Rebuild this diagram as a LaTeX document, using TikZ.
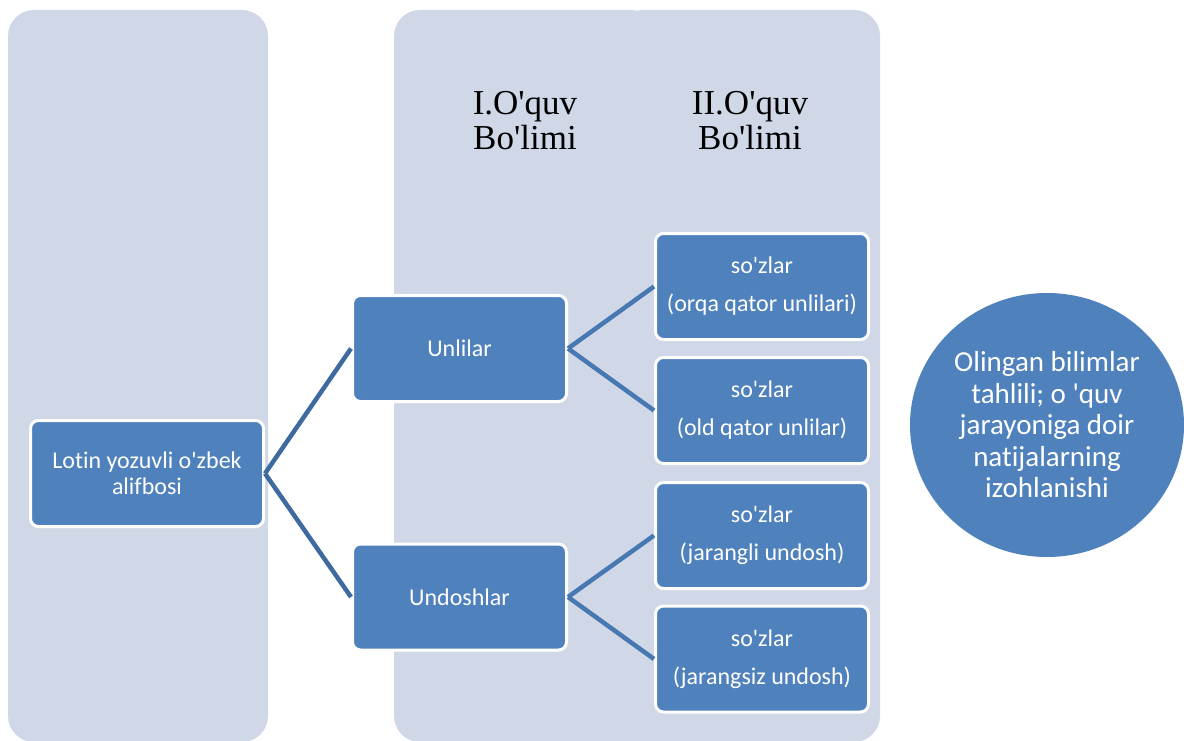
\documentclass[tikz,border=0pt]{standalone}
\usepackage{fontspec}
\setmainfont{Carlito}[Ligatures=NoCommon]
\newfontfamily\tnrfont{Liberation Serif}
\usetikzlibrary{shapes.geometric}
\definecolor{colbg}{HTML}{D0D8E8}
\definecolor{boxblue}{HTML}{4F81BD}
\definecolor{lineL}{HTML}{3F6A9F}
\definecolor{lineR}{HTML}{4878B2}
\newcommand{\ap}{\textquotesingle}
\begin{document}
\begin{tikzpicture}[x=1pt,y=-1pt,
  column/.style={fill=colbg, rounded corners=26pt},
  bluebox/.style={draw=white, line width=3pt, fill=boxblue, rounded corners=8pt,
    text=white, align=center, inner sep=0pt,
    font=\fontsize{24}{26}\selectfont, minimum height=106pt},
  header/.style={align=center, inner sep=0pt, font=\tnrfont\fontsize{35}{35}\selectfont},
  connL/.style={draw=lineL, line width=4.5pt},
  connR/.style={draw=lineR, line width=4.5pt}]
\useasboundingbox (0,0) rectangle (1184,741);
% columns
\fill[column] (8,10) rectangle (268,742);
\fill[column] (394,10) rectangle (657,742);
\fill[column] (617,10) rectangle (880,742);
% headers
\node[header] (h1) at (525,121) {I.O\ap quv\\Bo\ap limi};
\node[header] (h2) at (750,121) {II.O\ap quv\\Bo\ap limi};
% boxes
\node[bluebox, minimum width=233pt] (root) at (147,473.5) {Lotin yozuvli o\ap zbek\\alifbosi};
\node[bluebox, minimum width=214pt] (unl) at (459.5,348.5) {Unlilar};
\node[bluebox, minimum width=214pt] (und) at (459.5,597) {Undoshlar};
\node[bluebox, minimum width=213pt] (r1) at (762,286.5) {so\ap zlar\\[12pt](orqa qator unlilari)};
\node[bluebox, minimum width=213pt] (r2) at (762,410.5) {so\ap zlar\\[12pt](old qator unlilar)};
\node[bluebox, minimum width=213pt] (r3) at (762,535.5) {so\ap zlar\\[12pt](jarangli undosh)};
\node[bluebox, minimum width=213pt] (r4) at (762,659) {so\ap zlar\\[12pt](jarangsiz undosh)};
% result
\node[ellipse, fill=boxblue, minimum width=274pt, minimum height=264pt, inner sep=0pt,
  text=white, align=center, font=\fontsize{29}{31.5}\selectfont] (res) at (1047,425)
  {Olingan bilimlar\\tahlili; o \ap quv\\jarayoniga doir\\natijalarning\\izohlanishi};
% connectors
\draw[connL] (root.east) -- (unl.west);
\draw[connL] (root.east) -- (und.west);
\draw[connR] (unl.east) -- (r1.west);
\draw[connR] (unl.east) -- (r2.west);
\draw[connR] (und.east) -- (r3.west);
\draw[connR] (und.east) -- (r4.west);
\end{tikzpicture}
\end{document}
